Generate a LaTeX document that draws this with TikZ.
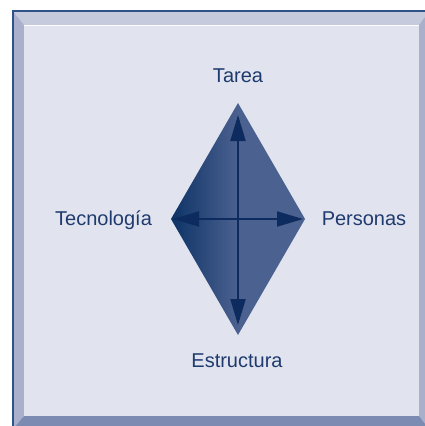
\documentclass[tikz,border=0pt]{standalone}
\usepackage{fontspec}
\setmainfont{Liberation Sans}
\usetikzlibrary{arrows.meta}
\definecolor{panel}{HTML}{E1E4EE}
\definecolor{bevtop}{HTML}{C5CADC}
\definecolor{bevside}{HTML}{A8B0CC}
\definecolor{bevbot}{HTML}{7B8BB2}
\definecolor{frameline}{HTML}{2F5389}
\definecolor{labeltext}{HTML}{1F3A6E}
\definecolor{kitedark}{HTML}{0E3366}
\definecolor{kitelight}{HTML}{4B6190}
\definecolor{axisline}{HTML}{0D2B5E}
\begin{document}
\begin{tikzpicture}[x=1pt,y=-1pt]
\tikzstyle{every node}+=[inner sep=0pt]
\tikzstyle{label}=[text=labeltext,font=\fontsize{20}{24}\selectfont,anchor=base]
\tikzstyle{axis}=[draw=axisline,line width=2pt,-{Triangle[length=26pt,width=15pt]}]
\useasboundingbox (0,0) rectangle (424,426);
% frame with bevels
\fill [bevtop] (12,10) -- (430,10) -- (419,25) -- (24,25) -- cycle;
\fill [bevside] (12,10) -- (24,25) -- (24,416) -- (12,430) -- cycle;
\fill [bevside] (430,10) -- (419,25) -- (419,416) -- (430,430) -- cycle;
\fill [bevbot] (24,416) -- (419,416) -- (430,430) -- (12,430) -- cycle;
\fill [panel] (24,25) rectangle (419,416);
\draw [white,line width=1pt] (24,25.5) -- (419,25.5);
\draw [frameline,line width=1.5pt] (12.75,430) -- (12.75,10.75) -- (430,10.75);
% kite
\coordinate (top) at (238,103);
\coordinate (bottom) at (238,335);
\coordinate (left) at (171,219);
\coordinate (right) at (305,219);
\coordinate (center) at (238,219);
\shade [left color=kitedark,right color=kitelight,middle color=kitelight]
  (top) -- (right) -- (bottom) -- (left) -- cycle;
\draw [axis] (center) -- ([yshift=-12pt]top);
\draw [axis] (center) -- ([yshift=10pt]bottom);
\draw [axis] (center) -- ([xshift=2pt]left);
\draw [axis] (center) -- ([xshift=-2pt]right);
% labels
\node [label] (tarea) at (238,82) {Tarea};
\node [label] (tecnologia) at (103.5,225) {Tecnología};
\node [label] (personas) at (364,225) {Personas};
\node [label] (estructura) at (237,367) {Estructura};
\end{tikzpicture}
\end{document}
